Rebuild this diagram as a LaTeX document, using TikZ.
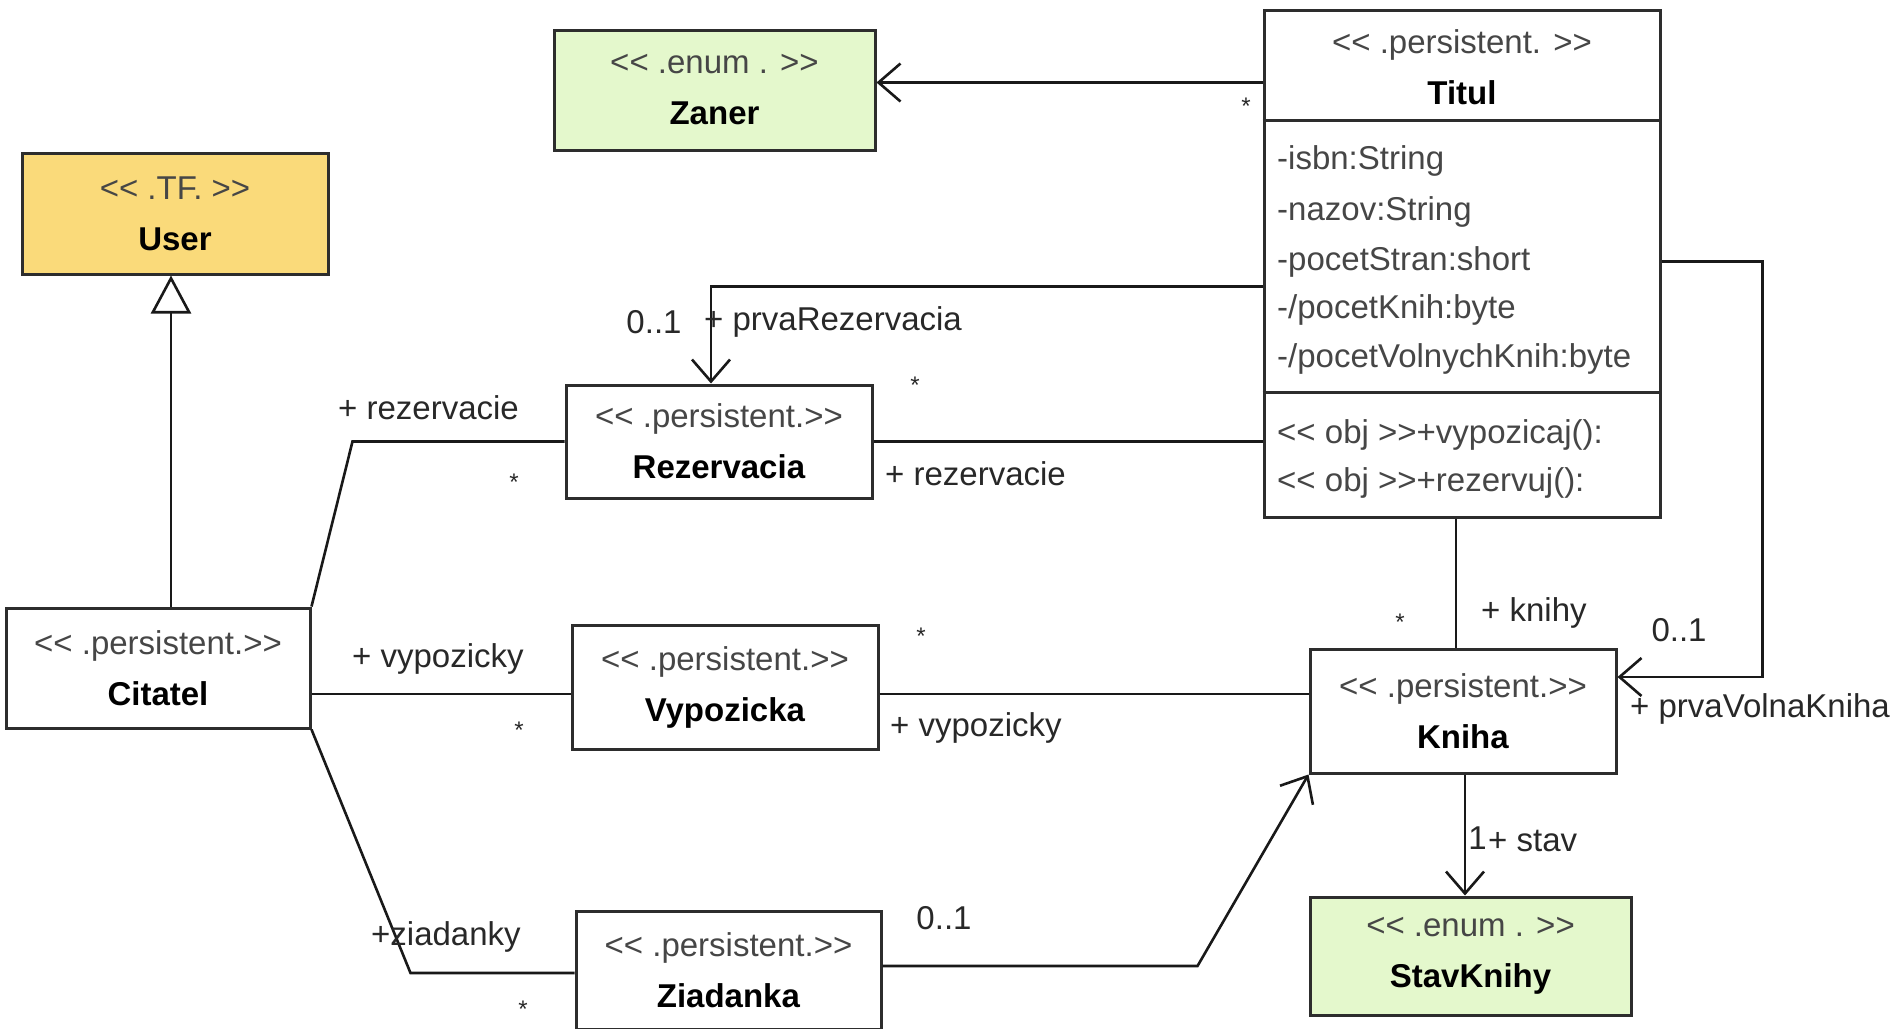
\documentclass[tikz,border=0pt]{standalone}
\usepackage{fontspec}
\setmainfont{Liberation Sans}[Ligatures=TeXOff]
\usetikzlibrary{arrows.meta,calc}
\definecolor{enumfill}{RGB}{228,248,204}
\definecolor{tffill}{RGB}{250,218,122}
\definecolor{boxline}{RGB}{45,45,45}
\definecolor{stereo}{RGB}{70,70,70}
\definecolor{lbl}{RGB}{40,40,40}
\begin{document}
\begin{tikzpicture}[x=1pt,y=-1pt,
  cls/.style={draw=boxline, line width=3pt, fill=white, align=center, inner sep=0pt,
              font=\fontsize{33}{51}\selectfont},
  txt/.style={align=center, inner sep=0pt, font=\fontsize{33}{51}\selectfont},
  attr/.style={anchor=west, inner sep=0pt, text=stereo, font=\fontsize{33}{40}\selectfont},
  conn/.style={line width=2.6pt, draw=black!90},
  nav/.style={conn, -{Straight Barb[length=22pt,width=38pt]}},
  gen/.style={conn, -{Triangle[open,length=38pt,width=40pt,fill=white]}},
  lab/.style={text=lbl, inner sep=0pt, font=\fontsize{33}{40}\selectfont},
  mult/.style={text=lbl, inner sep=0pt, font=\fontsize{24}{26}\selectfont},
]
\useasboundingbox (0,0) rectangle (1900,1028);
\fill[white] (0,0) rectangle (1900,1028);

% classes
\node[cls, fill=enumfill, minimum width=321pt, minimum height=120pt] (zaner) at (714.5,90)
  {\textcolor{stereo}{<< .enum . >>}\\\textbf{Zaner}};
\node[cls, fill=tffill, minimum width=306pt, minimum height=121pt] (user) at (175,213.5)
  {\textcolor{stereo}{<< .TF. >>}\\\textbf{User}};
\node[cls, minimum width=304pt, minimum height=120pt] (citatel) at (158,668)
  {\textcolor{stereo}{<< .persistent.>>}\\\textbf{Citatel}};
\node[cls, minimum width=306pt, minimum height=113pt] (rezervacia) at (719,441.5)
  {\textcolor{stereo}{<< .persistent.>>}\\\textbf{Rezervacia}};
\node[cls, minimum width=306pt, minimum height=124pt] (vypozicka) at (725,687)
  {\textcolor{stereo}{<< .persistent.>>}\\\textbf{Vypozicka}};
\node[cls, minimum width=305pt, minimum height=118pt] (ziadanka) at (728.5,970)
  {\textcolor{stereo}{<< .persistent.>>}\\\textbf{Ziadanka}};
\node[cls, minimum width=306pt, minimum height=124pt] (kniha) at (1463,711)
  {\textcolor{stereo}{<< .persistent.>>}\\\textbf{Kniha}};
\node[cls, fill=enumfill, minimum width=321pt, minimum height=118pt] (stavknihy) at (1470.5,956)
  {\textcolor{stereo}{<< .enum . >>}\\\textbf{StavKnihy}};

% Titul with compartments
\node[cls, minimum width=396pt, minimum height=507pt] (titul) at (1462,263.5) {};
\draw[draw=boxline, line width=3pt] ([yshift=-112pt]titul.north west) -- ([yshift=-112pt]titul.north east);
\draw[draw=boxline, line width=3pt] ([yshift=-384pt]titul.north west) -- ([yshift=-384pt]titul.north east);
\node[txt] (titulname) at (1462,67.5) {\textcolor{stereo}{<< .persistent. >>}\\\textbf{Titul}};
\node[attr] (a1) at (1277,161) {-isbn:String};
\node[attr] (a2) at (1277,212) {-nazov:String};
\node[attr] (a3) at (1277,262) {-pocetStran:short};
\node[attr] (a4) at (1277,310) {-/pocetKnih:byte};
\node[attr] (a5) at (1277,359) {-/pocetVolnychKnih:byte};
\node[attr] (o1) at (1277,435) {<< obj >>+vypozicaj():};
\node[attr] (o2) at (1277,483) {<< obj >>+rezervuj():};

% connectors
\coordinate (zt) at ([yshift=-74pt]titul.north west);
\draw[nav] (zt) -- (zt -| zaner.east);

\coordinate (rt) at ([yshift=-278pt]titul.north west);
\draw[nav] (rt) -| ([xshift=-8pt]rezervacia.north);

\draw[conn] (rezervacia.east) -- (rezervacia.east -| titul.west);

\draw[conn] (citatel.north east) -- ([xshift=-212pt]rezervacia.west) -- (rezervacia.west);

\coordinate (vyw) at ([yshift=-7pt]vypozicka.west);
\coordinate (vye) at ([yshift=-7pt]vypozicka.east);
\draw[conn] (vyw -| citatel.east) -- (vyw);
\draw[conn] (vye) -- (vye -| kniha.west);

\draw[conn] (citatel.south east) -- ([xshift=-164pt,yshift=-3pt]ziadanka.west) -- ([yshift=-3pt]ziadanka.west);
\draw[nav] ([yshift=4pt]ziadanka.east) -- ([xshift=315pt,yshift=4pt]ziadanka.east) -- (kniha.south west);

\coordinate (tk) at ([xshift=-6pt]titul.south);
\draw[conn] (tk) -- (tk |- kniha.north);

\coordinate (pv1) at ([yshift=-253pt]titul.north east);
\coordinate (pv2) at ([yshift=34pt]kniha.east);
\draw[nav] (pv1) -| ([xshift=145pt]pv2) -- (pv2);

\coordinate (ks) at ([xshift=2pt]kniha.south);
\draw[nav] (ks) -- (ks |- stavknihy.north);

\coordinate (cu) at ([xshift=13pt]citatel.north);
\draw[gen] (cu) -- (cu |- user.south);

% labels
\node[mult] (m1) at (1246,106) {*};
\node[lab] (l1) at (654,322) {0..1};
\node[lab, anchor=west] (l2) at (704,322) {+ prvaRezervacia};
\node[mult] (m2) at (915,385) {*};
\node[lab, anchor=west] (l3) at (885,474) {+ rezervacie};
\node[lab, anchor=west] (l4) at (338,408) {+ rezervacie};
\node[mult] (m3) at (514,482) {*};
\node[lab, anchor=west] (l5) at (352,659) {+ vypozicky};
\node[mult] (m4) at (519,730) {*};
\node[mult] (m5) at (921,636) {*};
\node[lab, anchor=west] (l6) at (890,728) {+ vypozicky};
\node[lab, anchor=west] (l7) at (371,937) {+ziadanky};
\node[mult] (m6) at (523,1009) {*};
\node[lab] (l8) at (944,918) {0..1};
\node[mult] (m7) at (1400,622) {*};
\node[lab, anchor=west] (l9) at (1481,613) {+ knihy};
\node[lab] (l10) at (1679,630) {0..1};
\node[lab, anchor=west] (l11) at (1630,709) {+ prvaVolnaKniha};
\node[lab, anchor=west] (l12) at (1488,841) {+ stav};
\node[lab, anchor=east] (l13) at (1487,838) {1};
\end{tikzpicture}
\end{document}
